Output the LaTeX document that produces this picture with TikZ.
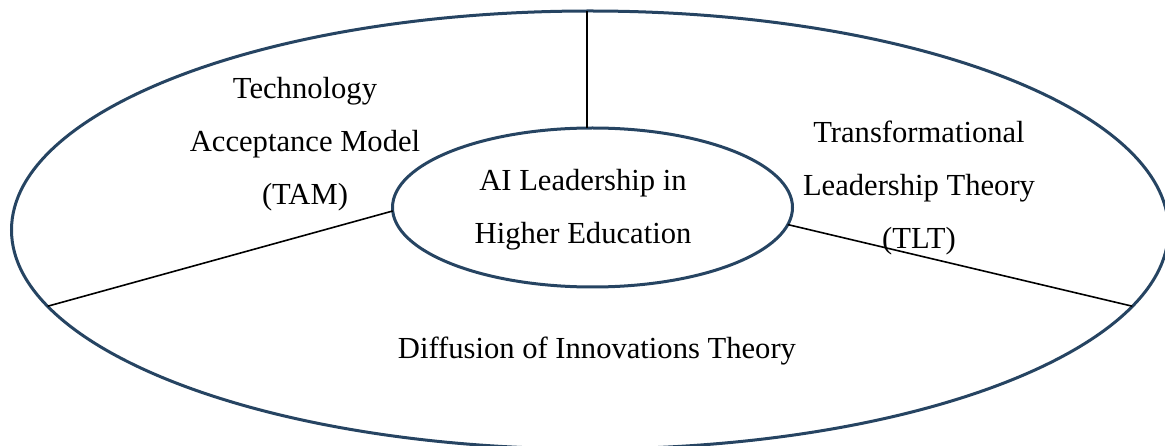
\documentclass[tikz,border=0pt]{standalone}
\usepackage{fontspec}
\setmainfont{Liberation Serif}
\usetikzlibrary{shapes.geometric}
\definecolor{rimblue}{RGB}{38,68,98}
\tikzset{
  ring/.style={draw=rimblue, line width=3pt, ellipse, inner sep=0pt, outer sep=0pt},
  divider/.style={draw=black, line width=1.6pt},
  label/.style={align=center, inner sep=0pt, font=\fontsize{30.6}{53}\selectfont}
}
\begin{document}
\begin{tikzpicture}[x=1pt,y=-1pt]
\useasboundingbox (0,0) rectangle (1165,446);
\clip (0,0) rectangle (1165,446);
% outer ring and central ellipse
\node[ring, minimum width=1157pt, minimum height=438pt] (outer) at (590,230) {};
\node[ring, minimum width=400pt, minimum height=159pt] (core) at (592.5,207.5) {};
% dividers between the three theories
\draw[divider] (core.94.6) -- (core.94.6 |- outer.north);
\draw[divider] (core.181.6) -- (outer.188.1);
\draw[divider] (core.355.7) -- (outer.352.6);
% texts
\node[label] (coretext) at (583,209.5) {AI Leadership in\\Higher Education};
\node[label] (tam) at (305,144) {Technology\\Acceptance Model\\(TAM)};
\node[label] (tlt) at (919,188) {Transformational\\Leadership Theory\\(TLT)};
\node[label] (dit) at (597,351) {Diffusion of Innovations Theory};
\end{tikzpicture}
\end{document}
